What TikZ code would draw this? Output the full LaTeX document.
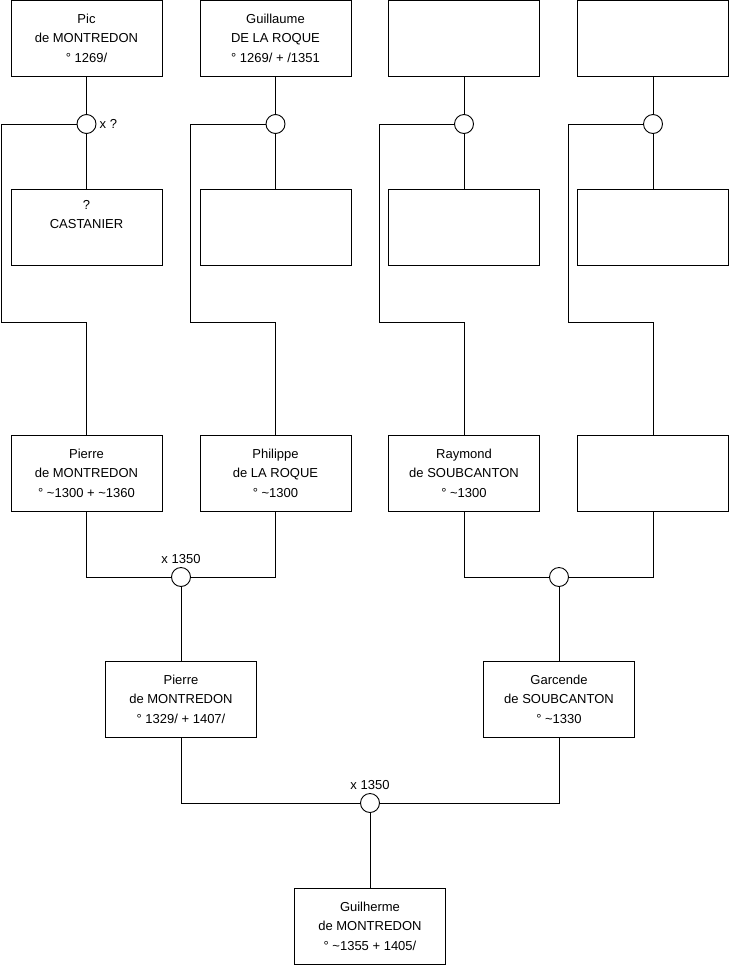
\documentclass[tikz,border=0pt]{standalone}
\usepackage{fontspec}
\setmainfont{Liberation Sans}
\usetikzlibrary{positioning}

\begin{document}
\begin{tikzpicture}[
  x=1pt, y=-1pt,
  every node/.style={font=\fontsize{13}{19.5}\selectfont},
  person/.style={
    draw, minimum width=151pt, minimum height=76pt, align=center,
    inner sep=0pt, line width=0.9pt
  },
  union/.style={draw, circle, minimum size=19pt, inner sep=0pt, fill=white, line width=0.9pt},
  link/.style={line width=0.9pt},
  note/.style={inner sep=1pt}
]
\useasboundingbox (0,0) rectangle (740,975);

% --- Row 1: grandparents' parents ---
\node[person] (pic) at (86.5,38) {Pic\\de MONTREDON\\° 1269/};
\node[person] (guillaume) at (275.5,38) {Guillaume\\DE LA ROQUE\\° 1269/ + /1351};
\node[person] (top3) at (464,38) {};
\node[person] (top4) at (653,38) {};

% --- Row 2: spouses ---
\node[person] (castanier) at (86.5,227) {?\\CASTANIER\\\strut};
\node[person] (wife2) at (275.5,227) {};
\node[person] (wife3) at (464,227) {};
\node[person] (wife4) at (653,227) {};

% --- Unions, row 1 ---
\node[union] (u1) at (86.5,124) {};
\node[union] (u2) at (275.5,124) {};
\node[union] (u3) at (464,124) {};
\node[union] (u4) at (653,124) {};
\node[note, anchor=west, xshift=2pt] at (u1.east) {x ?};

% --- Row 3: grandparents ---
\node[person] (pierre1) at (86.5,473) {Pierre\\de MONTREDON\\° \textasciitilde1300 + \textasciitilde1360};
\node[person] (philippe) at (275.5,473) {Philippe\\de LA ROQUE\\° \textasciitilde1300};
\node[person] (raymond) at (464,473) {Raymond\\de SOUBCANTON\\° \textasciitilde1300};
\node[person] (gm4) at (653,473) {};

% --- Unions, row 3 ---
\node[union] (u5) at (181,577) {};
\node[union] (u6) at (559,577) {};
\node[note, above=2pt of u5] {x 1350};

% --- Row 4: parents ---
\node[person] (pierre2) at (181,699) {Pierre\\de MONTREDON\\° 1329/ + 1407/};
\node[person] (garcende) at (559,699) {Garcende\\de SOUBCANTON\\° \textasciitilde1330};

% --- Final union and child ---
\node[union] (u7) at (370,803) {};
\node[note, above=2pt of u7] {x 1350};
\node[person] (guilherme) at (370,926) {Guilherme\\de MONTREDON\\° \textasciitilde1355 + 1405/};

% --- Links: row 1 ---
\foreach \a/\b/\c in {pic/u1/castanier, guillaume/u2/wife2, top3/u3/wife3, top4/u4/wife4}{
  \draw[link] (\a) -- (\b);
  \draw[link] (\b) -- (\c);
}
\draw[link] (u1.west) -- ++(-75,0) |- (86.5,322) -- (pierre1.north);
\draw[link] (u2.west) -- ++(-75,0) |- (275.5,322) -- (philippe.north);
\draw[link] (u3.west) -- ++(-75,0) |- (464,322) -- (raymond.north);
\draw[link] (u4.west) -- ++(-75,0) |- (653,322) -- (gm4.north);

% --- Links: row 3 ---
\draw[link] (pierre1.south) |- (u5.west);
\draw[link] (philippe.south) |- (u5.east);
\draw[link] (raymond.south) |- (u6.west);
\draw[link] (gm4.south) |- (u6.east);
\draw[link] (u5) -- (pierre2);
\draw[link] (u6) -- (garcende);

% --- Links: row 4 ---
\draw[link] (pierre2.south) |- (u7.west);
\draw[link] (garcende.south) |- (u7.east);
\draw[link] (u7) -- (guilherme);

\end{tikzpicture}
\end{document}
